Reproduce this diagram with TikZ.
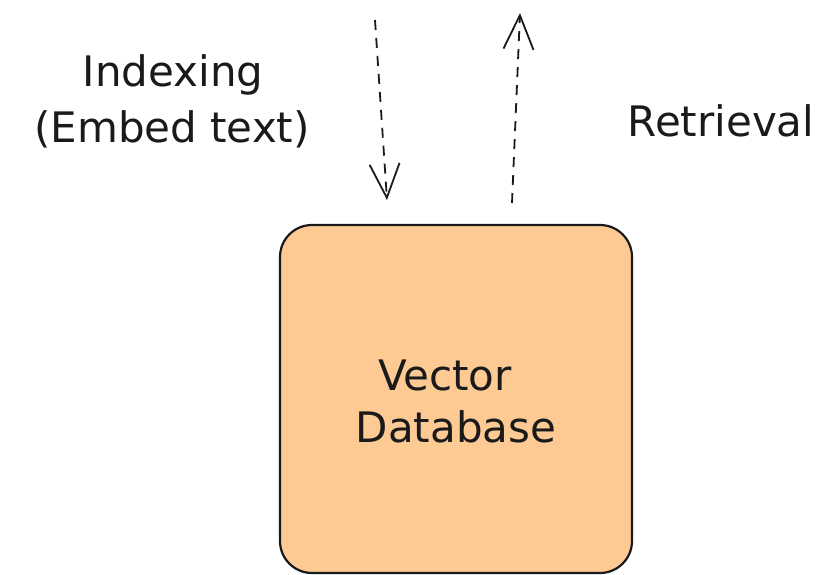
\documentclass[tikz,border=0pt]{standalone}
\usepackage{fontspec}
\setmainfont{DejaVu Sans}
\usetikzlibrary{arrows.meta}
\definecolor{ink}{HTML}{1A1A1A}
\definecolor{boxfill}{HTML}{FDCA94}
\tikzset{
  label text/.style={font=\fontsize{42}{50}\selectfont, text=ink, anchor=base, inner sep=0pt},
  dbbox/.style={draw=ink, line width=2.2pt, fill=boxfill, rounded corners=32pt,
    minimum width=352pt, minimum height=348pt, inner sep=0pt},
  flow/.style={draw=ink, line width=1.8pt, dash pattern=on 10pt off 8pt,
    -{Straight Barb[length=34pt, width=30pt, line width=1.8pt]}}
}
\begin{document}
\begin{tikzpicture}[x=1pt, y=-1pt]
  \useasboundingbox (0,0) rectangle (825,575);
  % vector store
  \node[dbbox] (db) at (456,399) {};
  \node[label text] (vec) at (445,390) {Vector};
  \node[label text] (dbase) at (456,442) {Database};
  % side labels
  \node[label text] (idx) at (173,87) {Indexing};
  \node[label text] (emb) at (172,143) {(Embed text)};
  \node[label text] (ret) at (721,137) {Retrieval};
  % arrow end points
  \coordinate (inTop) at (375,20);
  \coordinate (inEnd) at (387,200);
  \coordinate (outStart) at (512,203);
  \coordinate (outEnd) at (520,13);
  \draw[flow] (inTop) -- (inEnd);
  \draw[flow] (outStart) -- (outEnd);
\end{tikzpicture}
\end{document}
